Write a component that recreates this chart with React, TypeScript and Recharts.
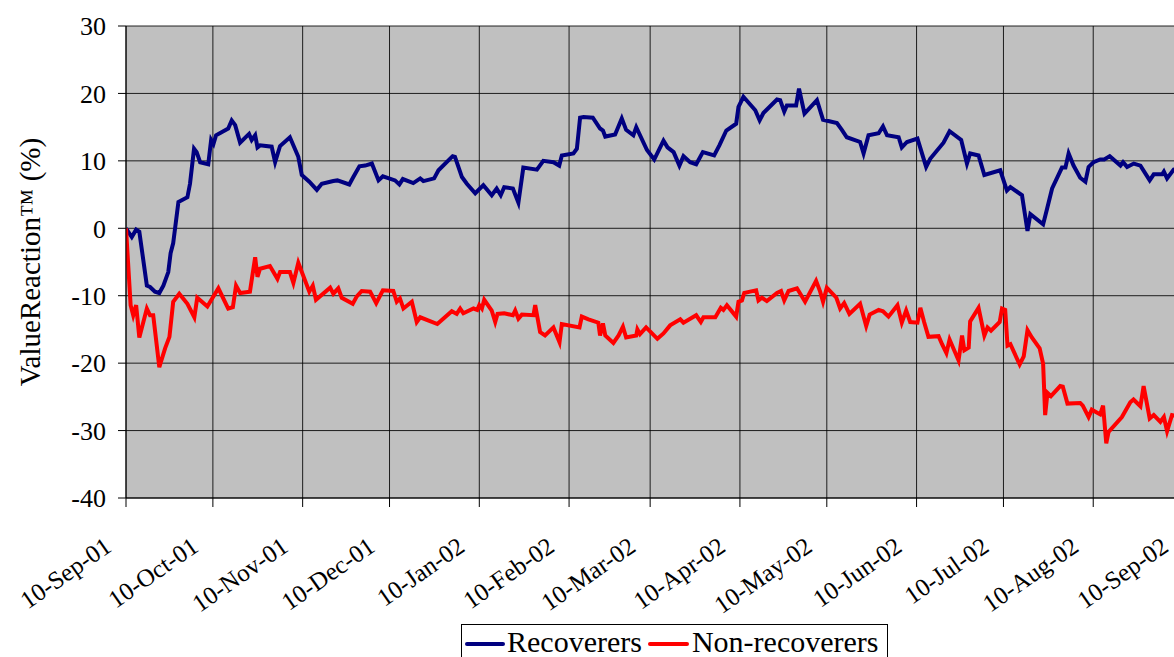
import { LineChart, Line, XAxis, YAxis, CartesianGrid, Label } from 'recharts';

// x = days since 10-Sep-01, y = ValueReaction (%)
const recoverers: [number, number][] = [
  [0, 0], [2.0, -1.3], [3.5, -0.2], [4.6, -0.5], [7.2, -8.5], [8.3, -8.7], [10.0, -9.4], [11.5, -9.6],
  [12.9, -8.5], [14.6, -6.5], [15.4, -3.7], [16.3, -2.2], [18.1, 3.9], [21.2, 4.6], [22.1, 6.6], [23.5, 11.8],
  [24.4, 11.3], [25.6, 9.8], [28.4, 9.5], [29.4, 13.1], [30.2, 12.5], [31.1, 13.8], [35.3, 14.8], [36.5, 16.0],
  [37.7, 15.3], [39.4, 12.7], [42.5, 14.0], [43.4, 13.1], [44.6, 13.8], [45.4, 12.0], [46.3, 12.3], [50.3, 12.1],
  [51.5, 9.8], [53.2, 12.2], [56.6, 13.5], [59.5, 10.6], [60.7, 7.9], [63.3, 6.9], [65.9, 5.7], [67.6, 6.6],
  [71.6, 7.0], [73.0, 7.1], [77.1, 6.5], [78.5, 7.6], [80.6, 9.2], [82.6, 9.3], [84.9, 9.6], [87.2, 7.1],
  [88.7, 7.7], [92.9, 7.1], [94.4, 6.5], [95.6, 7.3], [99.2, 6.7], [101.6, 7.4], [102.7, 7.0], [106.4, 7.4],
  [107.9, 8.6], [112.8, 10.7], [113.6, 10.6], [116.0, 7.6], [117.7, 6.6], [120.6, 5.2], [123.4, 6.4], [126.3, 4.9],
  [128.0, 5.9], [129.4, 4.9], [130.6, 6.1], [133.6, 5.9], [135.5, 3.8], [137.2, 9.0], [141.9, 8.7], [144.1, 10.0],
  [147.6, 9.8], [149.6, 9.3], [150.5, 10.8], [154.5, 11.1], [155.7, 11.8], [156.8, 16.4], [158.0, 16.5], [161.2, 16.4],
  [163.7, 14.8], [164.7, 14.5], [165.5, 13.6], [168.9, 13.9], [171.2, 16.3], [172.7, 14.6], [175.2, 13.8], [176.2, 15.0],
  [179.9, 11.6], [182.4, 10.2], [185.6, 13.0], [187.0, 12.0], [189.1, 11.3], [191.1, 9.3], [192.5, 10.7], [194.8, 9.8],
  [196.9, 9.5], [199.2, 11.3], [203.1, 10.8], [204.9, 12.3], [207.3, 14.5], [210.7, 15.5], [211.5, 18.0], [213.2, 19.5],
  [217.3, 17.5], [218.8, 16.0], [220.1, 17.1], [224.8, 19.1], [225.9, 19.0], [227.3, 17.3], [228.2, 18.2], [231.4, 18.2],
  [232.4, 20.7], [234.3, 17.0], [238.6, 19.0], [240.7, 16.1], [245.5, 15.6], [247.2, 14.6], [248.9, 13.5], [253.5, 12.8],
  [254.7, 11.1], [256.4, 13.8], [259.9, 14.1], [261.4, 15.1], [262.8, 13.8], [266.8, 13.5], [267.9, 12.0], [269.7, 12.8],
  [273.3, 13.3], [276.3, 9.1], [277.7, 10.3], [282.3, 12.7], [284.4, 14.4], [288.4, 13.1], [290.4, 9.6], [291.5, 11.1],
  [294.4, 10.8], [296.4, 7.9], [301.9, 8.6], [304.2, 5.6], [305.4, 6.1], [309.4, 4.9], [311.3, -0.4], [312.3, 2.1],
  [316.7, 0.6], [318.0, 2.8], [319.8, 5.9], [323.2, 9.0], [324.4, 9.0], [325.5, 11.1], [327.2, 9.3], [329.5, 7.5],
  [331.3, 6.9], [332.4, 9.1], [334.1, 9.8], [336.4, 10.2], [337.8, 10.2], [339.7, 10.7], [343.4, 9.3], [344.3, 9.8],
  [345.7, 9.1], [348.0, 9.6], [350.3, 9.3], [353.5, 7.1], [354.9, 8.0], [357.8, 8.0], [358.4, 8.4], [359.5, 7.4],
  [361.8, 8.7], [364, 8.9],
];

const nonRecoverers: [number, number][] = [
  [0, 0], [1.6, -11.4], [2.5, -12.9], [3.5, -11.4], [4.6, -16.2], [7.2, -11.9], [8.3, -12.9], [9.4, -12.9],
  [11.5, -20.6], [13.5, -17.8], [15.0, -16.1], [16.3, -10.9], [18.4, -9.7], [21.2, -11.2], [23.6, -13.2], [24.6, -10.3],
  [28.1, -11.6], [31.9, -8.9], [35.3, -11.9], [36.9, -11.7], [38.0, -8.5], [39.4, -9.6], [42.8, -9.4], [44.6, -4.3],
  [45.4, -7.2], [46.3, -6.0], [49.7, -5.6], [52.3, -7.5], [53.2, -6.5], [56.6, -6.5], [57.8, -8.1], [59.5, -5.1],
  [63.3, -9.4], [64.5, -8.5], [65.6, -10.6], [70.5, -8.8], [71.6, -9.7], [73.3, -8.9], [74.5, -10.3], [78.3, -11.2],
  [79.7, -10.1], [81.4, -9.3], [84.3, -9.4], [86.4, -11.1], [88.7, -9.2], [92.3, -9.3], [93.5, -10.9], [94.6, -10.4],
  [95.8, -11.9], [98.7, -10.9], [100.4, -13.9], [101.6, -13.2], [107.5, -14.2], [112.5, -12.3], [114.2, -12.7], [115.4, -11.9],
  [116.5, -12.6], [120.0, -11.9], [121.3, -12.1], [122.0, -11.4], [122.9, -11.9], [123.7, -10.6], [126.3, -12.2], [127.5, -13.9],
  [128.3, -12.7], [130.6, -12.6], [133.6, -12.9], [134.4, -12.2], [135.5, -13.4], [136.7, -12.8], [140.7, -12.9], [141.3, -11.4],
  [143.0, -15.4], [144.7, -15.9], [147.6, -14.7], [149.7, -16.9], [150.5, -14.2], [156.6, -14.7], [157.4, -13.1], [159.7, -13.5],
  [163.1, -14.0], [163.7, -15.9], [164.7, -14.1], [165.5, -15.9], [168.3, -17.0], [170.1, -15.9], [171.6, -14.6], [172.7, -16.2],
  [176.2, -15.9], [176.6, -15.0], [177.5, -15.7], [179.6, -14.7], [183.5, -16.4], [185.6, -15.6], [187.9, -14.4], [191.4, -13.5],
  [192.5, -14.0], [196.9, -12.9], [198.5, -13.9], [199.4, -13.2], [203.5, -13.2], [205.4, -11.8], [206.3, -12.1], [207.5, -11.4],
  [210.7, -13.1], [211.5, -10.9], [212.7, -10.7], [213.5, -9.6], [215.5, -9.4], [217.6, -9.2], [218.4, -10.7], [219.6, -10.3],
  [221.3, -10.8], [224.8, -9.6], [226.2, -9.3], [227.3, -10.7], [228.8, -9.3], [231.7, -8.9], [234.5, -10.9], [238.3, -7.8],
  [239.7, -9.4], [240.7, -10.9], [242.0, -8.8], [245.3, -10.3], [246.6, -11.9], [248.0, -11.1], [249.8, -12.7], [253.5, -11.2],
  [255.6, -14.5], [256.8, -12.8], [259.9, -12.1], [261.4, -12.3], [263.3, -13.1], [266.4, -11.4], [267.9, -14.0], [269.4, -12.2],
  [270.8, -13.9], [273.3, -14.0], [274.3, -11.8], [275.6, -13.9], [277.1, -16.1], [280.6, -16.0], [281.8, -17.2], [283.3, -18.5],
  [284.4, -16.5], [287.5, -19.6], [288.7, -15.9], [289.5, -18.1], [291.0, -17.7], [291.5, -13.8], [294.4, -11.8], [296.4, -15.9],
  [297.5, -14.7], [298.7, -15.2], [301.7, -13.9], [302.5, -11.9], [303.6, -12.1], [304.4, -17.4], [305.4, -17.2], [308.6, -20.2],
  [310.0, -19.0], [311.3, -15.1], [312.8, -16.2], [315.5, -17.8], [316.7, -20.1], [317.4, -27.7], [318.2, -24.4], [319.4, -24.9],
  [322.6, -23.4], [323.5, -23.5], [325.1, -26.0], [329.5, -25.9], [330.4, -26.3], [332.4, -28.0], [333.5, -26.9], [336.4, -27.6],
  [337.4, -26.3], [338.5, -31.9], [339.3, -30.2], [343.9, -28.0], [346.8, -25.8], [347.9, -25.4], [350.3, -26.4], [351.4, -23.4],
  [353.5, -28.2], [354.9, -27.7], [357.2, -28.7], [358.4, -28.0], [359.5, -30.1], [361.2, -27.7], [364, -28.0],
];

const dateTicks = [0, 30, 61, 91, 122, 153, 181, 212, 242, 273, 303, 334, 365];
const dateLabels = [
  '10-Sep-01', '10-Oct-01', '10-Nov-01', '10-Dec-01', '10-Jan-02', '10-Feb-02', '10-Mar-02',
  '10-Apr-02', '10-May-02', '10-Jun-02', '10-Jul-02', '10-Aug-02', '10-Sep-02',
];
const valueTicks = [-40, -30, -20, -10, 0, 10, 20, 30];

const FONT = '"Liberation Serif", "Times New Roman", serif';

const toRows = (pts: [number, number][]) => pts.map(([day, value]) => ({ day, value }));

function DateTick(props: any) {
  const { x, y, payload } = props;
  const i = dateTicks.indexOf(payload.value);
  // rotated labels end just left of their tick, well below the axis
  const tx = x - 13;
  const ty = y + 43;
  return (
    <text x={tx} y={ty} textAnchor="end" transform={`rotate(-35 ${tx} ${ty})`}
      style={{ fontFamily: FONT }} fontSize={25} fill="#000">
      {dateLabels[i]}
    </text>
  );
}

export default function App() {
  return (
    <div style={{ position: 'fixed', left: 0, top: 0, width: 1174, height: 657, overflow: 'hidden', background: '#fff', fontFamily: FONT }}>
      <LineChart width={1210} height={670} margin={{ top: 26, right: 27, left: 0, bottom: 0 }}>
        <CartesianGrid fill="#C0C0C0" fillOpacity={1} stroke="#000" strokeOpacity={0.85} />
        <XAxis
          type="number"
          dataKey="day"
          domain={[0, 365]}
          ticks={dateTicks}
          interval={0}
          height={172}
          tickSize={9}
          tickMargin={0}
          tick={<DateTick />}
          axisLine={{ stroke: '#000' }}
          tickLine={{ stroke: '#000' }}
          allowDataOverflow
        />
        <YAxis
          type="number"
          domain={[-40, 30]}
          ticks={valueTicks}
          interval={0}
          width={126}
          tickSize={8}
          tickMargin={12}
          tick={{ fill: '#000', fontSize: 26, fontFamily: FONT }}
          axisLine={{ stroke: '#000' }}
          tickLine={{ stroke: '#000' }}
        >
          <Label
            content={({ viewBox }: any) => {
              const cy = viewBox.y + viewBox.height / 2;
              return (
                <text x={40} y={cy} textAnchor="middle" transform={`rotate(-90 40 ${cy})`}
                  style={{ fontFamily: FONT }} fontSize={29} fill="#000">
                  ValueReaction™ (%)
                </text>
              );
            }}
          />
        </YAxis>
        <Line data={toRows(recoverers)} dataKey="value" name="Recoverers" type="linear"
          stroke="#000080" strokeWidth={4} dot={false} isAnimationActive={false} />
        <Line data={toRows(nonRecoverers)} dataKey="value" name="Non-recoverers" type="linear"
          stroke="#FF0000" strokeWidth={4} dot={false} isAnimationActive={false} />
      </LineChart>
      <div style={{
        position: 'absolute', left: 461, top: 624, width: 427, height: 50, border: '1px solid #000',
        boxSizing: 'border-box', paddingTop: 2,
        background: '#fff', display: 'flex', alignItems: 'flex-start', fontSize: 30, lineHeight: '30px', color: '#000',
      }}>
        <span style={{ display: 'inline-block', width: 40, height: 4, background: '#000080', marginLeft: 3, marginTop: 15, borderRadius: 2 }} />
        <span style={{ marginLeft: 2 }}>Recoverers</span>
        <span style={{ display: 'inline-block', width: 41, height: 4, background: '#FF0000', marginLeft: 6, marginTop: 15, borderRadius: 2 }} />
        <span style={{ marginLeft: 3 }}>Non-recoverers</span>
      </div>
    </div>
  );
}
